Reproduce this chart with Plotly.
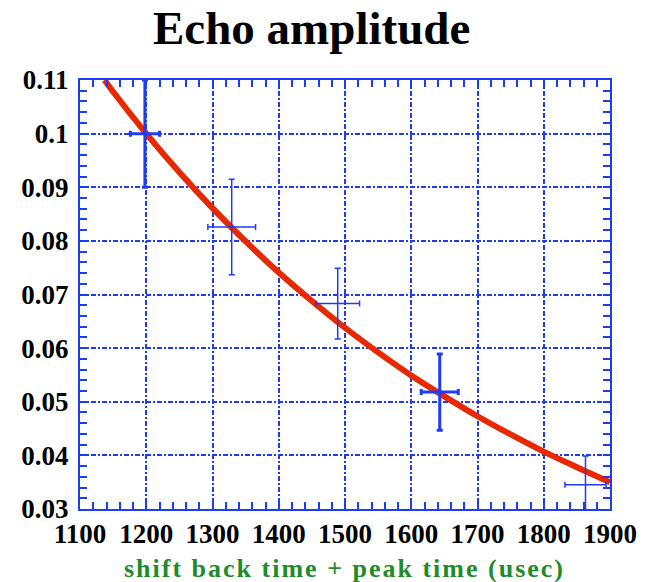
import plotly.graph_objects as go

# measured points (x in usec, y amplitude) with error bars
pt_x = [1198, 1329, 1489, 1643, 1863]
pt_y = [0.1000, 0.0826, 0.0683, 0.0518, 0.0345]
pt_xerr = [22, 36, 33, 28, 31]
pt_yerr = [0.0100, 0.0089, 0.0066, 0.0071, 0.0054]
pt_thick = [3, 1.5, 1.5, 3, 1.5]

# fitted decay curve
fit_x = [1137, 1150, 1200, 1250, 1300, 1350, 1400, 1450, 1500, 1550, 1600,
         1650, 1700, 1750, 1800, 1850, 1900]
fit_y = [0.1100, 0.1078, 0.1000, 0.0928, 0.0861, 0.0799, 0.0741, 0.0688,
         0.0638, 0.0592, 0.0549, 0.0510, 0.0473, 0.0439, 0.0407, 0.0378, 0.0350]

x_ticks = [1100, 1200, 1300, 1400, 1500, 1600, 1700, 1800, 1900]
y_ticks = [0.03, 0.04, 0.05, 0.06, 0.07, 0.08, 0.09, 0.1, 0.11]
y_labels = ["0.03", "0.04", "0.05", "0.06", "0.07", "0.08", "0.09", "0.1", "0.11"]

BLUE = "rgb(30,60,245)"
RED = "rgb(232,40,0)"
GREEN = "rgb(30,140,40)"
FONT = "Liberation Serif"

fig = go.Figure()

fig.add_trace(go.Scatter(x=fit_x, y=fit_y, mode="lines", line=dict(color=RED, width=6, shape="spline"),
                         showlegend=False, hoverinfo="skip"))

for i in range(len(pt_x)):
    fig.add_trace(go.Scatter(
        x=[pt_x[i]], y=[pt_y[i]], mode="markers",
        marker=dict(size=1, color=BLUE),
        error_x=dict(type="data", array=[pt_xerr[i]], color=BLUE, thickness=pt_thick[i], width=3),
        error_y=dict(type="data", array=[pt_yerr[i]], color=BLUE, thickness=pt_thick[i], width=3),
        showlegend=False))

axis_common = dict(
    showline=True, linecolor=BLUE, linewidth=2, mirror="allticks",
    ticks="inside", ticklen=7, tickwidth=1.5, tickcolor=BLUE,
    showgrid=True, gridcolor=BLUE, gridwidth=1.5, griddash="5px,2px,2px,2px",
    zeroline=False,
    tickfont=dict(family=FONT, size=27, color="black", weight="bold"),
)

fig.update_xaxes(range=[1100, 1900], tickvals=x_ticks, ticktext=[str(v) for v in x_ticks],
                 minor=dict(dtick=20, ticks="inside", ticklen=7, tickcolor=BLUE, tickwidth=1.5, showgrid=False),
                 ticklabelstandoff=0, **axis_common)
fig.update_yaxes(range=[0.03, 0.11], tickvals=y_ticks, ticktext=y_labels,
                 minor=dict(dtick=0.002, ticks="inside", ticklen=7, tickcolor=BLUE, tickwidth=1.5, showgrid=False),
                 ticklabelstandoff=4, **axis_common)

fig.update_layout(
    width=649, height=582,
    margin=dict(l=80, r=31, t=80, b=73),
    plot_bgcolor="white", paper_bgcolor="white",
    showlegend=False,
    annotations=[
        dict(text="Echo amplitude", xref="paper", yref="paper", x=(315 - 80) / 538, y=1 + (80 - 28) / 429,
             xanchor="center", yanchor="middle", showarrow=False,
             font=dict(family=FONT, size=47, color="black", weight="bold")),
        dict(text='<span style="letter-spacing:2px">shift back time + peak time (usec)</span>',
             xref="paper", yref="paper",
             x=(348 - 80) / 538, y=-(568 - 509) / 429, xanchor="center", yanchor="middle",
             showarrow=False, font=dict(family=FONT, size=26, color=GREEN, weight="bold")),
    ],
)

fig.write_html("out.html")
